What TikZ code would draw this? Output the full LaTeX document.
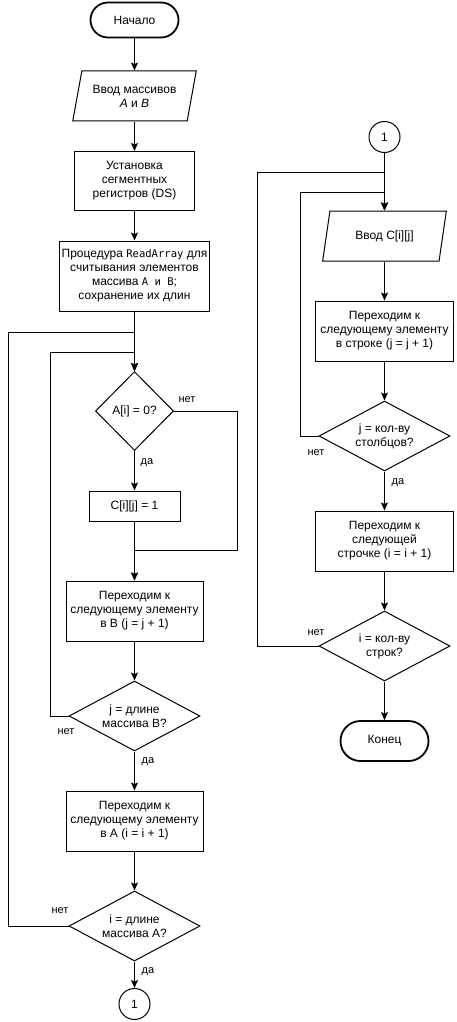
\documentclass[tikz,border=0pt]{standalone}
\usepackage{fontspec}
\setmainfont{Liberation Sans}
\setmonofont[Scale=0.88]{DejaVu Sans Mono}
\usepackage{tikz}
\usetikzlibrary{positioning,arrows.meta,shapes.geometric,shapes.misc,calc}

\tikzset{
  txt/.style={font=\fontsize{12}{14}\selectfont, align=center, inner sep=1pt},
  term/.style={txt, draw, rounded rectangle, line width=1.8pt, minimum width=90pt, minimum height=35pt},
  proc/.style={txt, draw, line width=1pt, minimum width=138pt, minimum height=60pt},
  io/.style={txt, draw, line width=1pt, trapezium, trapezium left angle=73, trapezium right angle=107,
    trapezium stretches=true, minimum width=124pt, minimum height=50pt},
  decision/.style={txt, draw, line width=1pt, diamond, aspect=1.86, inner sep=0pt,
    minimum width=131pt, minimum height=70pt},
  conn/.style={txt, draw, circle, line width=1pt, minimum size=31pt, inner sep=0pt},
  lbl/.style={font=\fontsize{11}{13}\selectfont, inner sep=0pt},
  arr/.style={line width=1pt, -{Stealth[length=8pt, width=7pt, inset=1.5pt]}},
}

\begin{document}
\begin{tikzpicture}[x=1pt, y=-1pt]
  \useasboundingbox (0,0) rectangle (456,1022);

  % Left column: loop over arrays A and B
  \node[term] (start) at (134.5,20) {Начало};
  \node[io] (in1) at (134.5,96) {Ввод массивов\\ \textit{A} и \textit{B}};
  \node[proc, minimum width=120pt, minimum height=59pt] (seg) at (134.5,181) {Установка\\ сегментных\\ регистров (DS)};
  \node[proc, minimum width=150pt, minimum height=70pt] (read) at (134.5,276)
    {Процедура \texttt{ReadArray} для\\ считывания элементов\\ массива \texttt{A и B};\\ сохранение их длин};
  \node[decision, aspect=1, minimum width=78pt, minimum height=79pt] (isz) at (134.5,411) {A[i] = 0?};
  \node[proc, minimum width=91pt, minimum height=30pt] (setc) at (134.5,506) {C[i][j] = 1};
  \node[proc, minimum width=137pt] (nextb) at (134.5,611) {Переходим к\\ следующему элементу\\ в B (j = j + 1)};
  \node[decision] (endb) at (134.5,716) {j = длине\\ массива B?};
  \node[proc, minimum width=137pt] (nexta) at (134.5,821) {Переходим к\\ следующему элементу\\ в A (i = i + 1)};
  \node[decision] (enda) at (134.5,926) {i = длине\\ массива A?};
  \node[conn] (outc) at (134.5,1004) {1};

  % Right column: output of matrix C
  \node[conn] (inc) at (384.5,137) {1};
  \node[io] (in2) at (384.5,236) {Ввод C[i][j]};
  \node[proc] (nextj) at (384.5,331) {Переходим к\\ следующему элементу\\ в строке (j = j + 1)};
  \node[decision] (endj) at (384.5,436) {j = кол-ву\\ столбцов?};
  \node[proc] (nexti) at (384.5,541) {Переходим к\\ следующей\\ строчке (i = i + 1)};
  \node[decision] (endi) at (384.5,646) {i = кол-ву\\ строк?};
  \node[term, minimum height=40pt] (stop) at (384.5,741) {Конец};

  % Straight connections
  \foreach \a/\b in {start/in1, in1/seg, seg/read, read/isz, isz/setc, setc/nextb, nextb/endb,
                     endb/nexta, nexta/enda, enda/outc, inc/in2, in2/nextj, nextj/endj,
                     endj/nexti, nexti/endi, endi/stop} {
    \draw[arr] (\a.south) -- (\a.south |- \b.north);
  }

  % Branch "нет" around C[i][j] = 1
  \coordinate (join) at (134.5,550);
  \draw[arr] (isz.east) -- ++(63,0) |- (join) -- (nextb.north);

  % Loop back edges
  \coordinate (loopb) at (50,352);
  \coordinate (loopa) at (8,332);
  \coordinate (loopj) at (300,192);
  \coordinate (loopi) at (257,172);
  \draw[arr] (endb.west) -| (loopb) -- (loopb -| isz.north) -- (isz.north);
  \draw[arr] (enda.west) -| (loopa) -- (loopa -| isz.north) -- (isz.north);
  \draw[arr] (endj.west) -| (loopj) -- (loopj -| in2.north) -- (in2.north);
  \draw[arr] (endi.west) -| (loopi) -- (loopi -| in2.north) -- (in2.north);

  % Labels
  \node[lbl] (l1) at (187,400) {нет};
  \node[lbl] (l2) at (147,463) {да};
  \node[lbl] (l3) at (66,732) {нет};
  \node[lbl] (l4) at (148,762) {да};
  \node[lbl] (l5) at (60,911) {нет};
  \node[lbl] (l6) at (148,972) {да};
  \node[lbl] (l7) at (316,453) {нет};
  \node[lbl] (l8) at (398,483) {да};
  \node[lbl] (l9) at (316,633) {нет};
\end{tikzpicture}
\end{document}
